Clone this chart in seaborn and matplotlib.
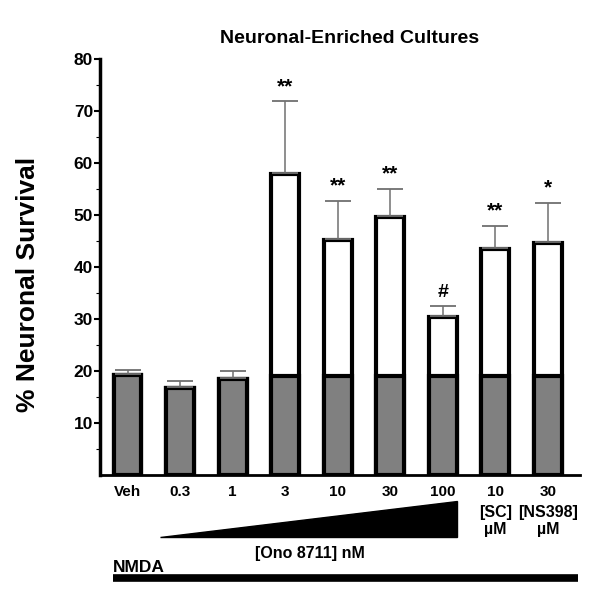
import matplotlib
matplotlib.use("Agg")
import matplotlib.pyplot as plt
import matplotlib.transforms as mtransforms
from matplotlib.patches import Polygon
import seaborn as sns
import pandas as pd
import numpy as np

# groups (keys must be unique, tick labels repeat)
groups = ["Veh", "0.3", "1", "3", "10", "30", "100", "SC 10", "NS398 30"]
tick_labels = ["Veh", "0.3", "1", "3", "10", "30", "100", "10", "30"]
base_survival = [19.2, 16.7, 18.5, 19.0, 19.0, 19.0, 19.0, 19.0, 19.0]   # gray part
total_survival = [19.2, 16.7, 18.5, 57.9, 45.2, 49.6, 30.4, 43.5, 44.6]  # bar top
sem = [1.0, 1.4, 1.5, 14.0, 7.5, 5.4, 2.1, 4.4, 7.7]
marks = ["", "", "", "**", "**", "**", "#", "**", "*"]

df = pd.DataFrame({"group": groups, "base": base_survival,
                   "total": total_survival, "sem": sem})

sns.set_style("ticks")
plt.rcParams['font.family'] = ['Liberation Sans', 'DejaVu Sans']
plt.rcParams['text.color'] = 'black'
plt.rcParams['xtick.color'] = 'black'
plt.rcParams['ytick.color'] = 'black'
plt.rcParams['axes.labelcolor'] = 'black'
plt.rcParams['axes.edgecolor'] = 'black'

fig = plt.figure(figsize=(6, 5.99), dpi=100)
ax = fig.add_axes([0.1667, 0.207, 0.80, 0.6945])

bw = 0.53
sns.barplot(data=df, x="group", y="total", order=groups, color="white",
            edgecolor="black", linewidth=3, width=bw, errorbar=None, ax=ax,
            saturation=1)
sns.barplot(data=df, x="group", y="base", order=groups, color="#808080",
            edgecolor="black", linewidth=3, width=bw, errorbar=None, ax=ax,
            saturation=1)

pos = np.arange(len(groups))
ax.errorbar(pos, df["total"] + 0.2, yerr=[np.zeros(len(pos)), df["sem"] - 0.2],
            fmt="none", ecolor="#707070", elinewidth=1.1, capsize=9.5,
            capthick=1.3, zorder=1)

for x, top, s, m in zip(pos, df["total"], df["sem"], marks):
    if m:
        ax.text(x, top + s + 1.0, m, ha="center", va="bottom",
                fontsize=15 if m != "#" else 14, fontweight="bold")

ax.set_xlim(-0.523, 8.61)
ax.set_ylim(0, 80)
ax.set_yticks(range(10, 81, 10))
ax.set_yticks(range(5, 80, 10), minor=True)
ax.set_xticks(pos)
ax.set_xticklabels(tick_labels, fontsize=11, fontweight="bold")
ax.tick_params(axis="x", length=0, pad=7)
ax.tick_params(axis="y", which="major", length=4, width=1.5, labelsize=12.5, pad=1)
ax.tick_params(axis="y", which="minor", length=3, width=0.8)
for lbl in ax.get_yticklabels():
    lbl.set_fontweight("bold")
sns.despine(ax=ax)
ax.spines["left"].set_linewidth(2.5)
ax.spines["bottom"].set_linewidth(2.0)
ax.set_xlabel("")
ax.set_ylabel("% Neuronal Survival", fontsize=19, fontweight="bold")
ax.yaxis.set_label_coords(-0.125, 0.457)

ax.text(0.52, 1.05, "Neuronal-Enriched Cultures", transform=ax.transAxes,
        ha="center", va="center", fontsize=14, fontweight="bold",
        family=["Liberation Sans Narrow", "Liberation Sans", "DejaVu Sans"])

# concentration wedge and labels below the axis
trans = mtransforms.blended_transform_factory(ax.transData, ax.transAxes)
wedge = Polygon([[0.62, -0.149], [6 + bw / 2, -0.149], [6 + bw / 2, -0.0625]],
                closed=True, facecolor="black", edgecolor="black",
                transform=trans, clip_on=False)
ax.add_patch(wedge)
ax.text(3.47, -0.188, "[Ono 8711] nM", transform=trans, ha="center",
        va="center", fontsize=11.5, fontweight="bold")
ax.text(7, -0.072, "[SC]\nµM", transform=trans, ha="center", va="top",
        fontsize=11.5, fontweight="bold", linespacing=1.15)
ax.text(8, -0.072, "[NS398]\nµM", transform=trans, ha="center", va="top",
        fontsize=11.5, fontweight="bold", linespacing=1.15)
ax.text(-0.276, -0.222, "NMDA", transform=trans, ha="left", va="center",
        fontsize=12.5, fontweight="bold")
ax.plot([-0.276, 8.57], [-0.2476, -0.2476], color="black", lw=5.5,
        solid_capstyle="butt", transform=trans, clip_on=False)

plt.savefig("out.png", dpi=100)
